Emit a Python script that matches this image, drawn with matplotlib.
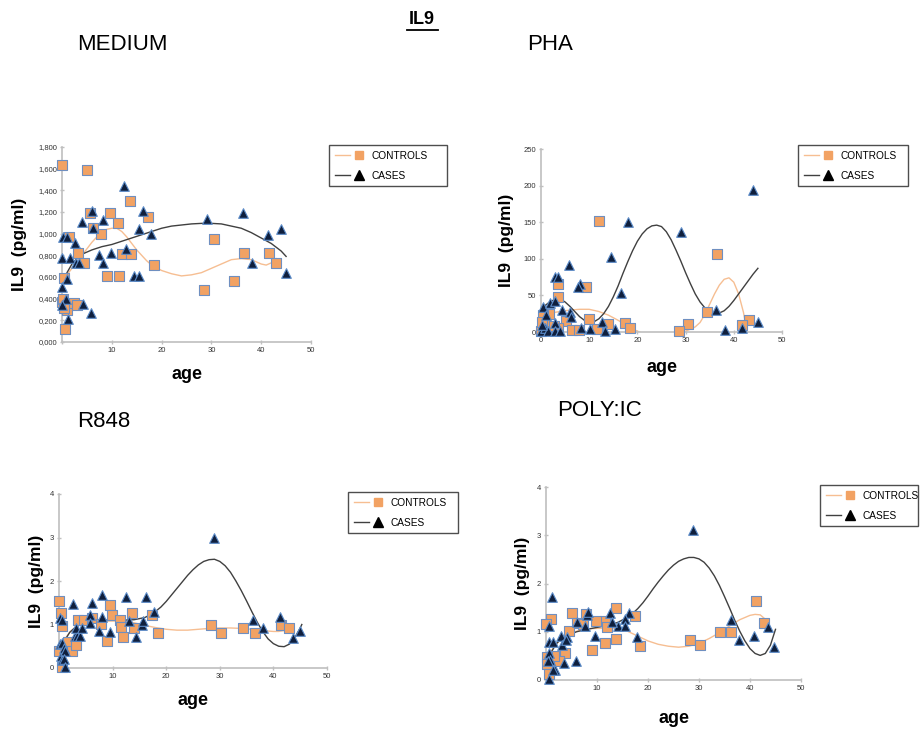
import matplotlib
matplotlib.use("Agg")
import matplotlib.pyplot as plt
from matplotlib.lines import Line2D
from matplotlib.legend_handler import HandlerTuple

plt.rcParams["font.family"] = ["Liberation Sans", "DejaVu Sans"]

# ---- MEDIUM ----
medium_ctrl_age = [0.0, 5.0, 5.6, 9.6, 11.3, 13.7, 17.2, 7.8, 6.3, 1.4, 3.3, 4.5, 12.0, 13.8, 18.5, 9.1,
                   11.5, 0.5, 0.0, 0.3, 1.1, 2.5, 3.1, 0.6, 28.6, 30.5, 34.5, 36.5, 41.5, 43.0, 0.4]
medium_ctrl_il9 = [1.63, 1.59, 1.19, 1.19, 1.10, 1.30, 1.15, 1.00, 1.05, 0.97, 0.82, 0.73, 0.81, 0.81, 0.71, 0.61,
                   0.61, 0.59, 0.37, 0.40, 0.30, 0.36, 0.34, 0.12, 0.48, 0.95, 0.565, 0.82, 0.82, 0.73, 0.31]
medium_case_age = [0.07, 0.0, 0.3, 1.1, 1.6, 1.1, 2.6, 2.9, 3.5, 4.1, 6.1, 6.2, 5.8, 4.2, 0.8, 0.1, 1.3,
                   7.4, 8.2, 8.3, 9.8, 12.5, 12.9, 14.4, 15.4, 15.5, 16.3, 17.9, 29.1, 36.3, 38.2, 41.3, 44.0, 45.0]
medium_case_il9 = [0.51, 0.78, 0.97, 0.97, 0.78, 0.58, 0.91, 0.73, 0.73, 1.11, 1.21, 1.05, 0.27, 0.35, 0.40, 0.34, 0.21,
                   0.80, 0.73, 1.13, 0.82, 1.44, 0.86, 0.61, 0.61, 1.04, 1.21, 1.00, 1.14, 1.19, 0.73, 0.99, 1.04, 0.64]
medium_ctrl_trend_age = [0.5, 1, 2, 3, 4, 5, 6, 7, 8, 9, 10, 11, 12, 13, 14, 15, 16, 17, 18, 20, 22, 24, 26, 28,
                         30, 32, 34, 36, 38, 40, 41, 42, 43]
medium_ctrl_trend = [0.58, 0.62, 0.68, 0.74, 0.80, 0.86, 0.92, 0.97, 1.01, 1.04, 1.05, 1.05, 1.02, 0.97, 0.91, 0.85,
                     0.80, 0.75, 0.71, 0.66, 0.63, 0.61, 0.62, 0.64, 0.68, 0.72, 0.76, 0.77, 0.76, 0.72, 0.71, 0.73, 0.77]
medium_case_trend_age = [0.5, 1, 2, 3, 4, 6, 8, 10, 12, 14, 16, 18, 20, 22, 24, 26, 28, 30, 32, 34, 36, 38, 40,
                         42, 44, 45]
medium_case_trend = [0.57, 0.64, 0.72, 0.77, 0.81, 0.85, 0.88, 0.90, 0.93, 0.96, 0.99, 1.02, 1.05, 1.07, 1.08, 1.09,
                     1.095, 1.095, 1.09, 1.07, 1.05, 1.01, 0.96, 0.91, 0.84, 0.79]

# ---- PHA ----
pha_ctrl_age = [12.1, 36.6, 9.3, 3.6, 3.6, 34.5, 9.9, 43.2, 17.4, 18.5, 30.4, 28.6, 41.6, 14.0, 11.7, 5.1,
                6.4, 7.9, 1.7, 0.5, 0.8, 0.1, 3.6, 0.3, 2.6]
pha_ctrl_il9 = [152, 107, 62, 65, 48, 28, 18, 17, 12, 6, 11, 2, 10, 11, 4, 15,
                3, 3, 24, 23, 11, 2, 5, 14, 8]
pha_case_age = [44.0, 29.1, 18.0, 14.6, 5.9, 2.9, 3.6, 8.1, 7.7, 16.5, 0.5, 1.9, 3.0, 4.4, 6.0, 1.0, 2.9,
                36.4, 45.1, 41.6, 38.1, 12.7, 10.2, 13.3, 15.4, 0.1, 0.8, 1.4, 2.9, 4.0, 6.2, 8.4, 0.3]
pha_case_il9 = [194, 137, 150, 103, 92, 75, 75, 66, 61, 53, 34, 39, 43, 30, 27, 23, 12,
                30, 13, 6, 3, 14, 4, 1, 4, 1, 6, 2, 1, 1, 20, 6, 10]
pha_ctrl_trend_age = [0, 1, 2, 3, 4, 6, 8, 10, 12, 14, 16, 18, 20, 22, 24, 26, 28, 30, 32, 33, 34, 35, 36,
                      37, 38, 39, 40, 41, 42, 42.8]
pha_ctrl_trend = [18, 22, 25, 27, 28, 30, 31, 31, 28, 23, 16, 8, 1, -4, -6, -6, -4, 1, 7, 13, 24, 38, 52,
                  64, 72, 74, 68, 52, 27, -2]
pha_case_trend_age = list(range(0, 46))
pha_case_trend = [30, 37, 42, 44.5, 45, 41, 35, 28, 21, 16, 14, 14, 18, 25, 35, 48, 63, 80, 96, 111, 124, 134,
                  141, 145, 146, 144, 137, 126, 112, 97, 81, 66, 52, 41, 33, 28, 26, 26, 29, 35, 43, 52, 61,
                  70, 79, 87]

# ---- R848 ----
r848_ctrl_age = [0.0, 0.4, 0.5, 0.0, 0.5, 1.6, 2.4, 3.1, 3.6, 4.6, 6.2, 7.8, 9.0, 9.5, 9.8, 11.4, 11.6, 12.0,
                 13.6, 13.9, 17.3, 18.5, 28.4, 30.3, 34.3, 36.5, 41.4, 42.9]
r848_ctrl_il9 = [1.55, 1.26, 0.97, 0.40, 0.03, 0.60, 0.39, 0.53, 1.10, 1.10, 1.14, 1.01, 0.61, 1.45, 1.21, 1.11,
                 0.95, 0.71, 1.27, 0.91, 1.21, 0.81, 0.99, 0.81, 0.91, 0.81, 0.98, 0.91]
r848_case_age = [28.9, 2.7, 6.1, 8.1, 12.5, 16.3, 17.8, 0.1, 0.6, 5.8, 5.7, 8.1, 7.5, 9.6, 13.0, 14.3, 15.4,
                 15.7, 36.2, 38.1, 41.2, 43.7, 44.9, 2.9, 3.4, 4.0, 3.2, 4.2, 0.2, 0.6, 0.3, 0.9, 1.2, 0.5,
                 1.0, 1.2]
r848_case_il9 = [3.0, 1.48, 1.50, 1.68, 1.63, 1.63, 1.28, 1.16, 1.11, 1.21, 1.04, 1.18, 0.84, 0.83, 1.09, 0.71,
                 1.00, 1.09, 1.11, 0.91, 1.17, 0.70, 0.86, 0.73, 0.73, 0.73, 0.91, 0.93, 0.55, 0.58, 0.28,
                 0.45, 0.40, 0.18, 0.20, 0.02]
r848_ctrl_trend_age = [0.2, 1, 2, 3, 4, 6, 8, 10, 12, 14, 16, 18, 20, 22, 24, 26, 28, 30, 32, 34, 36, 38, 40,
                       41, 42, 43]
r848_ctrl_trend = [0.48, 0.65, 0.82, 0.93, 1.00, 1.06, 1.08, 1.08, 1.08, 1.04, 0.98, 0.93, 0.89, 0.87, 0.87,
                   0.89, 0.91, 0.92, 0.92, 0.91, 0.89, 0.86, 0.84, 0.84, 0.86, 0.90]
r848_case_trend_age = [0.3, 1, 2, 3, 4, 6, 8, 10, 12, 14, 16, 17, 18, 19, 20, 21, 22, 23, 24, 25, 26, 27, 28,
                       29, 30, 31, 32, 33, 34, 35, 36, 37, 38, 39, 40, 41, 42, 43, 44, 45, 45.3]
r848_case_trend = [0.42, 0.62, 0.82, 0.93, 1.00, 1.06, 1.09, 1.10, 1.10, 1.11, 1.16, 1.22, 1.30, 1.40, 1.53,
                   1.68, 1.83, 1.98, 2.13, 2.26, 2.37, 2.45, 2.49, 2.50, 2.45, 2.35, 2.20, 2.00, 1.78, 1.54,
                   1.29, 1.05, 0.84, 0.67, 0.56, 0.50, 0.49, 0.55, 0.70, 0.92, 1.00]

# ---- POLY:IC ----
poly_ctrl_age = [41.2, 42.7, 34.2, 36.3, 28.3, 30.2, 18.4, 17.4, 13.8, 13.8, 11.6, 11.5, 12.0, 9.9, 9.1, 7.9,
                 5.1, 6.1, 4.6, 3.7, 2.5, 1.5, 1.0, 0.0, 0.1, 0.1, 0.6, 7.3]
poly_ctrl_il9 = [1.64, 1.18, 0.99, 0.99, 0.82, 0.73, 0.71, 1.33, 0.84, 1.49, 0.76, 1.22, 1.09, 1.23, 0.62, 1.37,
                 1.39, 1.19, 1.02, 0.55, 0.40, 0.50, 1.27, 1.17, 0.47, 0.34, 0.13, 1.17]
poly_case_age = [28.8, 1.1, 36.2, 37.9, 40.8, 43.5, 44.7, 17.8, 16.2, 15.4, 14.2, 15.5, 12.6, 12.9, 9.6, 8.0,
                 8.2, 7.6, 6.1, 5.8, 2.9, 3.2, 4.2, 3.9, 3.5, 0.6, 0.6, 1.4, 1.8, 0.5, 0.5, 0.8, 0.3, 1.3]
poly_case_il9 = [3.10, 1.73, 1.25, 0.82, 0.91, 1.10, 0.69, 0.90, 1.39, 1.26, 1.11, 1.11, 1.38, 1.21, 0.92, 1.34,
                 1.41, 1.12, 1.21, 0.40, 0.91, 0.73, 0.90, 0.82, 0.35, 1.11, 0.79, 0.79, 0.21, 0.02, 0.55,
                 0.42, 0.40, 0.20]
poly_ctrl_trend_age = [0.5, 1, 2, 3, 4, 6, 8, 10, 12, 14, 16, 17, 18, 20, 22, 24, 26, 28, 30, 32, 34, 36, 38,
                       40, 41, 42, 43]
poly_ctrl_trend = [0.52, 0.60, 0.75, 0.85, 0.93, 1.01, 1.06, 1.07, 1.07, 1.06, 1.01, 0.96, 0.91, 0.81, 0.74,
                   0.70, 0.68, 0.70, 0.76, 0.86, 0.98, 1.12, 1.25, 1.34, 1.36, 1.35, 1.26]
poly_case_trend_age = [0.5, 1, 2, 3, 4, 6, 8, 10, 12, 14, 16, 17, 18, 19, 20, 21, 22, 23, 24, 25, 26, 27, 28,
                       29, 30, 31, 32, 33, 34, 35, 36, 37, 38, 39, 40, 41, 42, 43, 44, 45]
poly_case_trend = [0.48, 0.57, 0.75, 0.85, 0.91, 1.00, 1.05, 1.09, 1.13, 1.19, 1.30, 1.38, 1.48, 1.60, 1.74,
                   1.89, 2.03, 2.16, 2.28, 2.38, 2.46, 2.51, 2.54, 2.54, 2.51, 2.44, 2.32, 2.16, 1.96, 1.73,
                   1.49, 1.24, 1.01, 0.81, 0.65, 0.55, 0.51, 0.55, 0.72, 1.05]

CTRL_FILL = "#F2A263"
CTRL_EDGE = "#6F8FC0"
CASE_FILL = "#0F1F3D"
CASE_EDGE = "#5B8BC8"
CTRL_LINE = "#F6BE92"
CASE_LINE = "#404040"
AXIS_GREY = "#BFBFBF"

W, H = 921, 729
fig = plt.figure(figsize=(W / 100, H / 100), dpi=100)


def px_axes(left, top, right, bottom):
    return fig.add_axes([left / W, 1 - bottom / H, (right - left) / W, (bottom - top) / H])


def draw_panel(ax, ctrl_x, ctrl_y, case_x, case_y, ct_x, ct_y, cs_x, cs_y, ymax, ystep,
               yfmt, show_x0, ylab_pad, xlab_pad):
    ax.plot(ct_x, ct_y, color=CTRL_LINE, lw=1.0, zorder=2)
    ax.plot(cs_x, cs_y, color=CASE_LINE, lw=1.0, zorder=2)
    ax.scatter(ctrl_x, ctrl_y, marker="s", s=42, c=CTRL_FILL, edgecolors=CTRL_EDGE,
               linewidths=0.8, zorder=3, clip_on=False)
    ax.scatter(case_x, case_y, marker="^", s=48, c=CASE_FILL, edgecolors=CASE_EDGE,
               linewidths=0.8, zorder=4, clip_on=False)
    ax.set_xlim(0, 50)
    ax.set_ylim(0, ymax)
    xt = [0, 10, 20, 30, 40, 50]
    ax.set_xticks(xt)
    ax.set_xticklabels([str(t) if (t or show_x0) else "" for t in xt])
    yt = [i * ystep for i in range(int(round(ymax / ystep)) + 1)]
    ax.set_yticks(yt)
    ax.set_yticklabels([yfmt(v) for v in yt])
    for side in ("top", "right"):
        ax.spines[side].set_visible(False)
    for side in ("left", "bottom"):
        ax.spines[side].set_color(AXIS_GREY)
        ax.spines[side].set_linewidth(1.2)
    ax.tick_params(axis="both", labelsize=5.5, colors=AXIS_GREY, labelcolor="#333333",
                   length=3, width=1, direction="inout", pad=2)
    ax.set_xlabel("age", fontsize=13, fontweight="bold", labelpad=xlab_pad)
    ax.set_ylabel("IL9  (pg/ml)", fontsize=12.5, fontweight="bold", labelpad=ylab_pad)


def add_legend(ax, left, top, right, bottom):
    ctrl_line = Line2D([], [], color=CTRL_LINE, lw=1.0)
    ctrl_mark = Line2D([], [], marker="s", ls="", color=CTRL_FILL, markersize=5.5)
    case_line = Line2D([], [], color=CASE_LINE, lw=1.0)
    case_mark = Line2D([], [], marker="^", ls="", color="black", markersize=6.5)
    ax.legend([(ctrl_line, ctrl_mark), (case_line, case_mark)], ["CONTROLS", "CASES"],
              handler_map={tuple: HandlerTuple(ndivide=None, pad=0.1)},
              loc="upper left",
              bbox_to_anchor=(left / W, 1 - bottom / H, (right - left) / W, (bottom - top) / H),
              bbox_transform=fig.transFigure, mode="expand", fontsize=7.3, frameon=True,
              fancybox=False, edgecolor="#222222", handlelength=3.2, handletextpad=0.4,
              borderpad=0.55, labelspacing=1.0, borderaxespad=0)


def comma3(v):
    return f"{v:.3f}".replace(".", ",")


def plain(v):
    return f"{v:g}"


ax1 = px_axes(62, 147, 311, 342)
draw_panel(ax1, medium_ctrl_age, medium_ctrl_il9, medium_case_age, medium_case_il9,
           medium_ctrl_trend_age, medium_ctrl_trend, medium_case_trend_age, medium_case_trend,
           1.8, 0.2, comma3, False, 8, 9)
add_legend(ax1, 329, 145, 447, 190)

ax2 = px_axes(541, 149, 782, 332)
draw_panel(ax2, pha_ctrl_age, pha_ctrl_il9, pha_case_age, pha_case_il9,
           pha_ctrl_trend_age, pha_ctrl_trend, pha_case_trend_age, pha_case_trend,
           250, 50, plain, True, 6.5, 11)
add_legend(ax2, 798, 145, 908, 190)

ax3 = px_axes(59, 494, 327, 668)
draw_panel(ax3, r848_ctrl_age, r848_ctrl_il9, r848_case_age, r848_case_il9,
           r848_ctrl_trend_age, r848_ctrl_trend, r848_case_trend_age, r848_case_trend,
           4, 1, plain, False, 4, 9)
add_legend(ax3, 348, 492, 458, 530)

ax4 = px_axes(546, 487, 801, 680)
draw_panel(ax4, poly_ctrl_age, poly_ctrl_il9, poly_case_age, poly_case_il9,
           poly_ctrl_trend_age, poly_ctrl_trend, poly_case_trend_age, poly_case_trend,
           4, 1, plain, False, 5, 13)
add_legend(ax4, 820, 485, 918, 528)

# headings
fig.text(422 / W, 1 - 20 / H, "IL9", ha="center", va="center", fontsize=13, fontweight="bold")
fig.add_artist(Line2D([407 / W, 438 / W], [1 - 30 / H, 1 - 30 / H], color="black", lw=1.3))
for label, x, y in [("MEDIUM", 77, 45), ("PHA", 527, 45), ("R848", 77, 422), ("POLY:IC", 557, 410)]:
    fig.text(x / W, 1 - y / H, label, ha="left", va="center", fontsize=16)

fig.savefig("out.png", dpi=100)
